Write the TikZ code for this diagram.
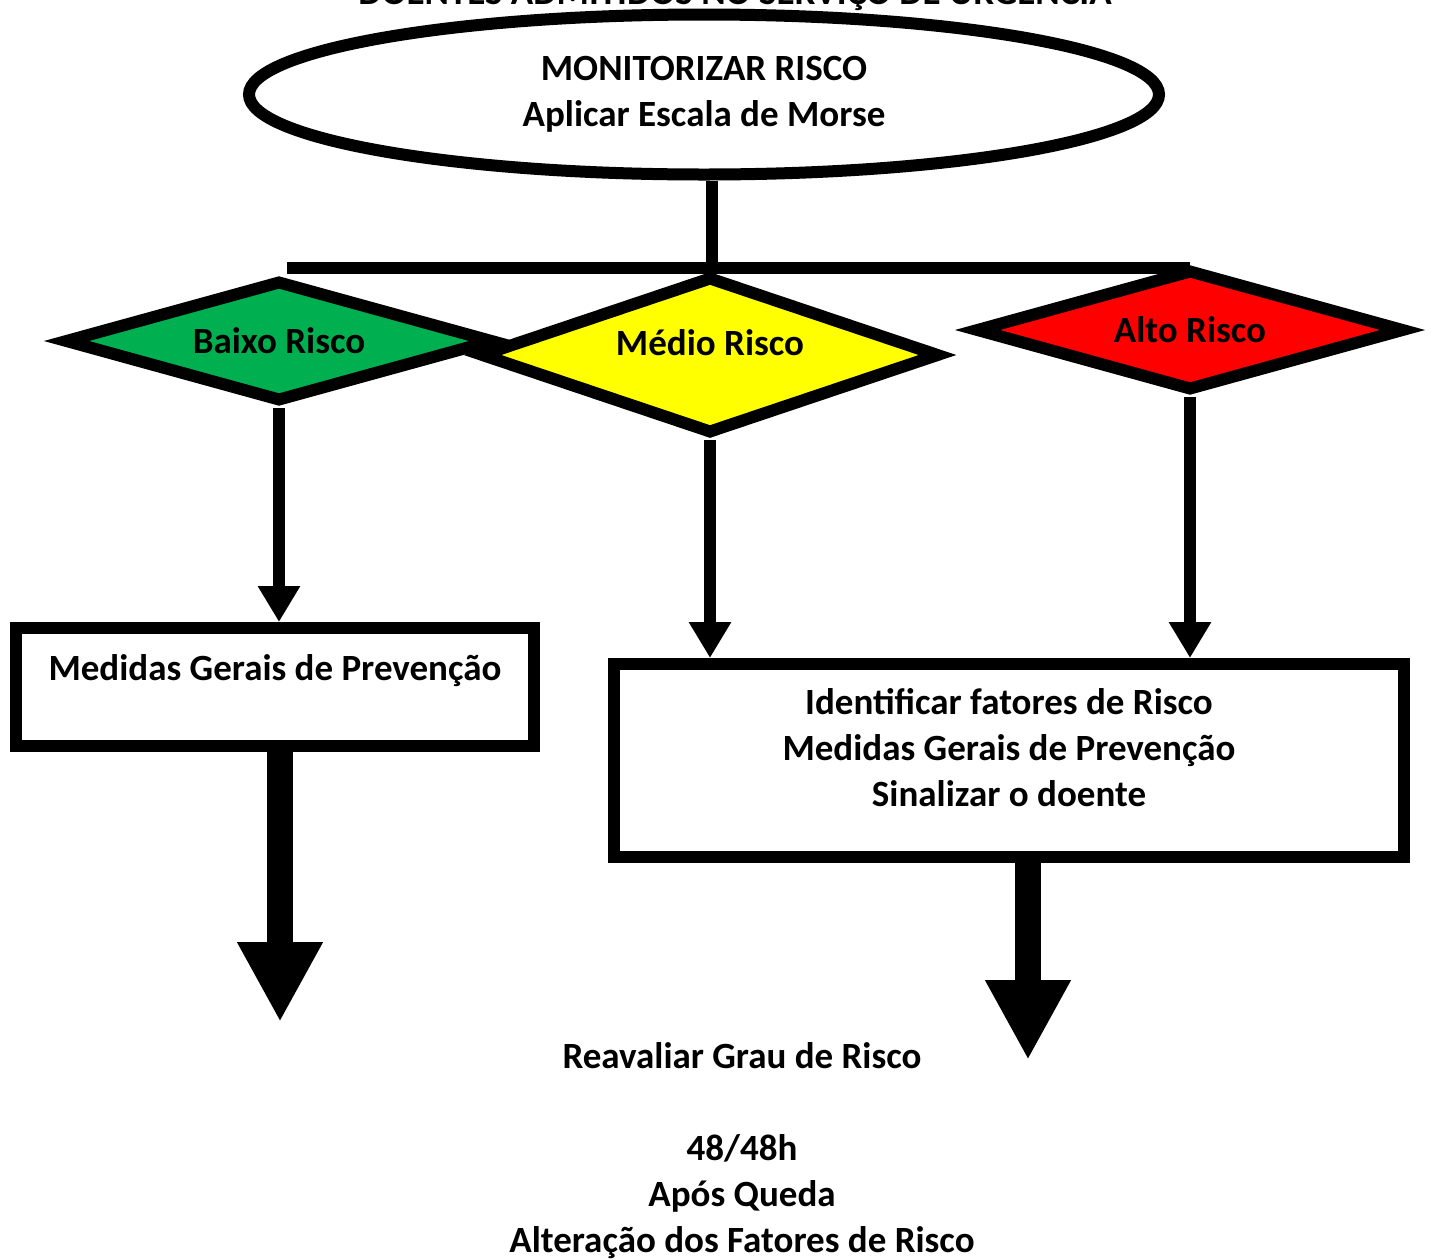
\documentclass[tikz,border=0pt]{standalone}
\usepackage{fontspec}
\setmainfont{Carlito}
\usepackage{tikz}
\usetikzlibrary{arrows.meta,shapes.geometric}
\definecolor{verde}{HTML}{00B050}
\definecolor{amarelo}{HTML}{FFFF00}
\definecolor{vermelho}{HTML}{FF0000}
\tikzset{txt/.style={font=\bfseries\fontsize{37}{46}\selectfont,align=center,inner sep=0pt},losango/.style={diamond,draw,line width=12pt,txt,aspect=3.3},caixa/.style={draw,line width=12pt,txt},traco/.style={line width=12pt},seta/.style={traco,-{Triangle[width=40pt,length=36pt]}},setagrande/.style={line width=26pt,-{Triangle[width=80pt,length=80pt]}}}

\begin{document}
\begin{tikzpicture}[x=1pt,y=-1pt]
\clip (0,0) rectangle (1435,1259);
\node[txt,anchor=base] (titulo) at (735,4) {DOENTES ADMITIDOS NO SERVIÇO DE URGÊNCIA};
\node[draw,ellipse,line width=12pt,txt,minimum width=910pt,minimum height=160pt] (mon) at (704,94.5) {MONITORIZAR RISCO\\Aplicar Escala de Morse};
\coordinate (split) at (712,268);
\coordinate (barL) at (287,268);
\coordinate (barR) at (1190,268);
\draw[traco] (mon.south -| split) -- (split);
\draw[traco] (barL) -- (barR);
\node[losango,fill=verde,minimum width=430pt,minimum height=122pt] (baixo) at (279,341) {Baixo Risco};
\node[losango,fill=amarelo,minimum width=460pt,minimum height=158pt,text height=20pt,text depth=20pt] (medio) at (710,355) {Médio Risco};
\node[losango,fill=vermelho,minimum width=430pt,minimum height=122pt] (alto) at (1190,330) {Alto Risco};
\node[caixa,minimum width=518pt,text height=52pt,text depth=66pt] (b1) at (275,687) {Medidas Gerais de Prevenção};
\node[caixa,minimum width=790pt,text height=142pt,text depth=51pt] (b2) at (1009,760.5) {Identificar fatores de Risco\\Medidas Gerais de Prevenção\\Sinalizar o doente};
\draw[seta] (baixo.south) -- (baixo.south |- b1.north);
\draw[seta] (medio.south) -- (medio.south |- b2.north);
\draw[seta] (alto.south) -- (alto.south |- b2.north);
\coordinate (fim1) at (280,1022);
\coordinate (fim2) at (1028,1060);
\draw[setagrande] (b1.south -| fim1) -- (fim1);
\draw[setagrande] (b2.south -| fim2) -- (fim2);
\node[txt,anchor=base] (reav) at (742,1252) {Reavaliar Grau de Risco\\[46pt]48/48h\\Após Queda\\Alteração dos Fatores de Risco};
\end{tikzpicture}
\end{document}
